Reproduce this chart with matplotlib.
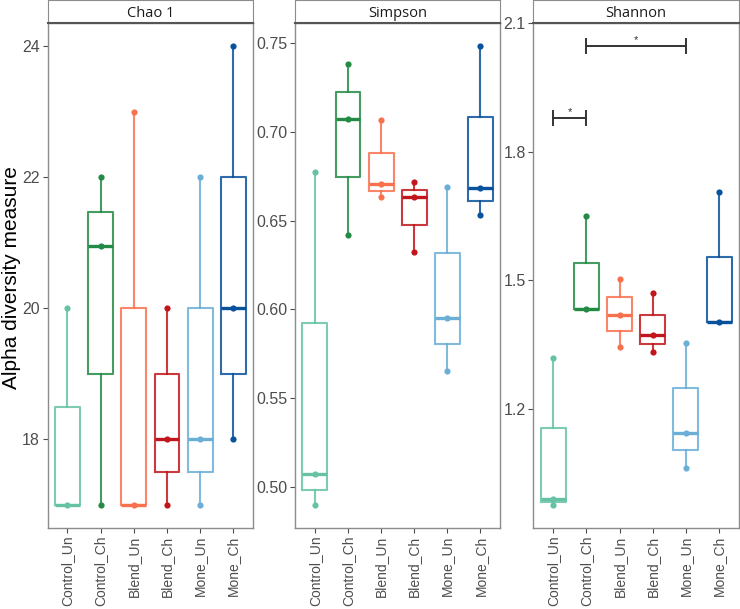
import matplotlib
matplotlib.use("Agg")
import matplotlib.pyplot as plt

# ================= DATA =================

GROUPS = ["Control_Un", "Control_Ch", "Blend_Un", "Blend_Ch", "Mone_Un", "Mone_Ch"]
COLORS = ["#66C2A5", "#238B45", "#F8714F", "#C0161C", "#6BAED6", "#08519C"]

# box stats per group: (whislo, q1, median, q3, whishi)
CHAO_BOX = [
    (17, 17, 17, 18.5, 20),
    (17, 19, 20.95, 21.47, 22),
    (17, 17, 17, 20, 23),
    (17, 17.5, 18, 19, 20),
    (17, 17.5, 18, 20, 22),
    (18, 19, 20, 22, 24),
]
CHAO_PTS = [[20, 17], [22, 20.95, 17], [23, 17], [20, 18, 17], [22, 18, 17], [24, 20, 18]]

SIMPSON_BOX = [
    (0.4899, 0.4985, 0.5071, 0.5922, 0.6774),
    (0.6421, 0.6746, 0.7070, 0.7226, 0.7382),
    (0.6631, 0.6665, 0.6704, 0.6882, 0.7065),
    (0.6323, 0.6477, 0.6633, 0.6674, 0.6716),
    (0.5653, 0.5805, 0.5950, 0.6319, 0.6688),
    (0.6532, 0.6609, 0.6685, 0.7083, 0.7483),
]
SIMPSON_PTS = [
    [0.6774, 0.5071, 0.4899],
    [0.7382, 0.7070, 0.6421],
    [0.7065, 0.6704, 0.6631],
    [0.6716, 0.6633, 0.6323],
    [0.6688, 0.5950, 0.5653],
    [0.7483, 0.6685, 0.6532],
]

SHANNON_BOX = [
    (0.9753, 0.983, 0.990, 1.1544, 1.3178),
    (1.4322, 1.4322, 1.4322, 1.5403, 1.6494),
    (1.345, 1.3816, 1.4189, 1.4603, 1.5023),
    (1.3333, 1.3519, 1.3729, 1.4196, 1.4696),
    (1.0624, 1.1037, 1.1441, 1.2492, 1.3543),
    (1.4033, 1.4033, 1.4033, 1.555, 1.706),
]
SHANNON_PTS = [
    [1.3178, 0.990, 0.9753],
    [1.6494, 1.4322],
    [1.5023, 1.4189, 1.345],
    [1.4696, 1.3729, 1.3333],
    [1.3543, 1.1441, 1.0624],
    [1.706, 1.4033],
]

# significance brackets on Shannon: (group from, group to, y)
SHANNON_SIG = [(0, 1, 1.878), (1, 4, 2.047)]

PANELS = [
    ("Chao 1", CHAO_BOX, CHAO_PTS, (16.65, 24.35), [18, 20, 22, 24], ["18", "20", "22", "24"]),
    ("Simpson", SIMPSON_BOX, SIMPSON_PTS, (0.4769, 0.7613),
     [0.50, 0.55, 0.60, 0.65, 0.70, 0.75], ["0.50", "0.55", "0.60", "0.65", "0.70", "0.75"]),
    ("Shannon", SHANNON_BOX, SHANNON_PTS, (0.922, 2.1), [1.2, 1.5, 1.8, 2.1], ["1.2", "1.5", "1.8", "2.1"]),
]

# ================= LAYOUT =================

W, H = 740, 609
PANEL_X = [(47.5, 253.3), (295, 500.3), (533.3, 739)]
PANEL_TOP, PANEL_BOT = 23, 528
BORDER = "#8c8c8c"

plt.rcParams["font.family"] = ["Liberation Sans", "DejaVu Sans"]

fig = plt.figure(figsize=(W / 100, H / 100), dpi=100)


def draw_panel(ax, title, box, pts, ylim, yticks, ylabels):
    stats = []
    for b in box:
        lo, q1, med, q3, hi = b
        stats.append(dict(whislo=lo, q1=q1, med=med, q3=q3, whishi=hi, fliers=[]))
    pos = list(range(len(GROUPS)))
    res = ax.bxp(stats, positions=pos, widths=0.75, showcaps=False,
                 patch_artist=False, manage_ticks=False)
    for i, c in enumerate(COLORS):
        res["boxes"][i].set(color=c, linewidth=1.5, alpha=0.85)
        res["medians"][i].set(color=c, linewidth=2.4)
        for w in res["whiskers"][2 * i:2 * i + 2]:
            w.set(color=c, linewidth=1.5, alpha=0.85)
        ax.scatter([i] * len(pts[i]), pts[i], s=20, color=c, zorder=3, linewidths=0)

    ax.set_xlim(-0.6, len(GROUPS) - 0.4)
    ax.set_ylim(*ylim)
    ax.set_yticks(yticks)
    ax.set_yticklabels(ylabels, fontsize=11.5, color="#4d4d4d")
    ax.set_xticks(pos)
    ax.set_xticklabels(GROUPS, rotation=90, fontsize=10, color="#4d4d4d")
    ax.tick_params(length=3.5, width=0.8, color="#4d4d4d", pad=2)
    for s in ax.spines.values():
        s.set_color(BORDER)
        s.set_linewidth(1.0)


for k, (title, box, pts, ylim, yticks, ylabels) in enumerate(PANELS):
    x0, x1 = PANEL_X[k]
    ax = fig.add_axes([x0 / W, 1 - PANEL_BOT / H, (x1 - x0) / W, (PANEL_BOT - PANEL_TOP) / H])
    draw_panel(ax, title, box, pts, ylim, yticks, ylabels)

    # facet strip
    sax = fig.add_axes([x0 / W, 1 - PANEL_TOP / H, (x1 - x0) / W, PANEL_TOP / H])
    sax.set_xticks([])
    sax.set_yticks([])
    for s in sax.spines.values():
        s.set_color(BORDER)
    sax.spines["bottom"].set_color("#555555")
    sax.spines["bottom"].set_linewidth(1.5)
    sax.text(0.5, 0.4, title, ha="center", va="center", fontsize=10.5,
             family=["Open Sans", "DejaVu Sans"], color="#1a1a1a")

    if title == "Shannon":
        cap = 0.016
        for g0, g1, y in SHANNON_SIG:
            ax.plot([g0, g1], [y, y], color="#333333", linewidth=1.4)
            ax.plot([g0, g0], [y - cap, y + cap], color="#333333", linewidth=1.4)
            ax.plot([g1, g1], [y - cap, y + cap], color="#333333", linewidth=1.4)
            ax.text((g0 + g1) / 2, y + 0.002, "*", ha="center", va="bottom",
                    fontsize=8, color="#333333")

fig.text(12 / W, 1 - 278 / H, "Alpha diversity measure", rotation=90,
         ha="center", va="center", fontsize=15, color="black")

fig.savefig("out.png", dpi=100)
